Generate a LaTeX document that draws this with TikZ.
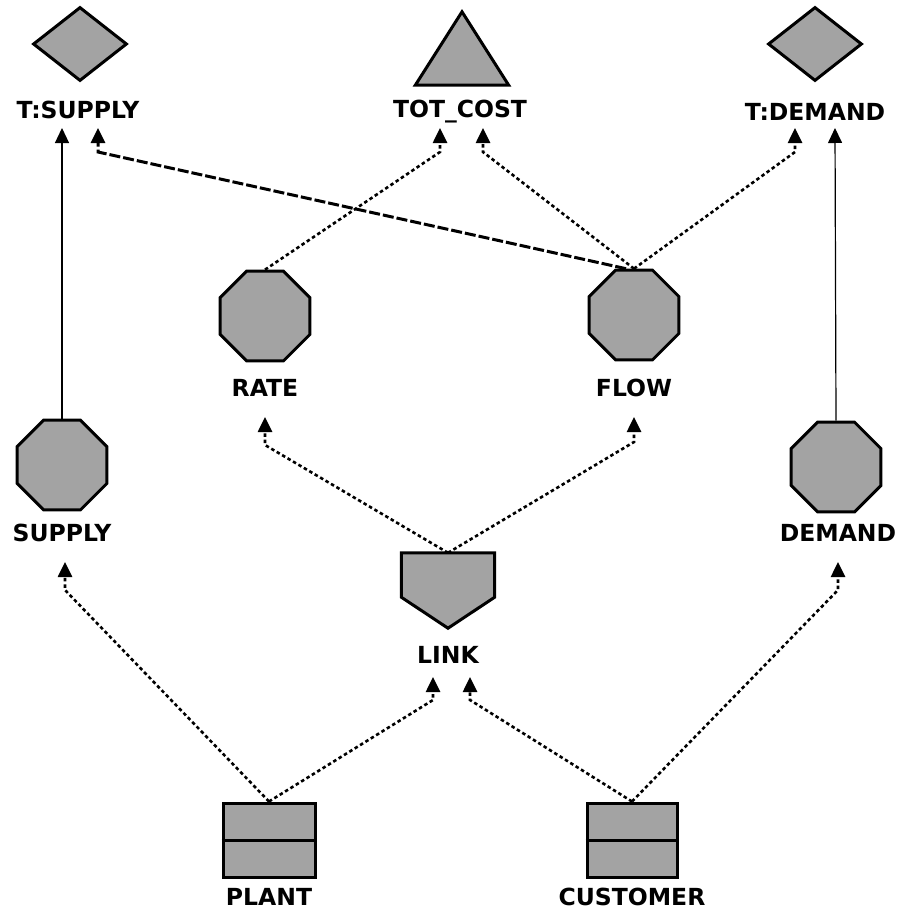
\documentclass[tikz,border=0pt]{standalone}
\usepackage{fontspec}
\setmainfont{DejaVu Sans}
\usetikzlibrary{shapes.geometric,arrows.meta}
\begin{document}
\begin{tikzpicture}[x=1pt,y=-1pt,
  shp/.style={draw=black,line width=3pt,fill=black!36},
  lbl/.style={font=\fontsize{23.5}{26}\selectfont\bfseries,inner sep=0pt,anchor=center},
  tip/.style={-{Triangle[width=14pt,length=15pt]}},
  dotline/.style={tip,line width=2.6pt,dash pattern=on 3.5pt off 2.8pt},
  dashline/.style={tip,line width=3pt,dash pattern=on 11pt off 3pt},
  solidline/.style={tip,line width=1.2pt},
  oct/.style={shp,regular polygon,regular polygon sides=8,minimum size=97pt,inner sep=0pt},
  dia/.style={shp,diamond,minimum width=94pt,minimum height=74pt,inner sep=0pt},
  box/.style={inner sep=0pt}]
\useasboundingbox (0,0) rectangle (899,915);

% top row
\node[dia] (tsupply) at (80,44) {};
\node[lbl] (tsupplyL) at (78,110) {T:SUPPLY};
\node[box,minimum width=93pt,minimum height=73pt] (totcost) at (462,48.5) {};
\draw[shp,line join=miter] (totcost.south west) -- (totcost.south east) -- (totcost.north) -- cycle;
\node[lbl] (totcostL) at (460,112) {TOT\_COST};
\node[dia] (tdemand) at (815,44) {};
\node[lbl] (tdemandL) at (815,112) {T:DEMAND};

% middle
\node[oct] (rate) at (265,316) {};
\node[lbl] (rateL) at (265,388) {RATE};
\node[oct] (flow) at (634,315) {};
\node[lbl] (flowL) at (634,388) {FLOW};
\node[oct] (supply) at (62,465) {};
\node[lbl] (supplyL) at (62,533) {SUPPLY};
\node[oct] (demand) at (836,467) {};
\node[lbl] (demandL) at (838,533) {DEMAND};

% link
\node[box,minimum width=93pt,minimum height=75pt] (link) at (448,590.5) {};
\draw[shp] (link.north west) -- (link.north east) -- ([yshift=31pt]link.south east) -- (link.south) -- ([yshift=31pt]link.south west) -- cycle;
\node[lbl] (linkL) at (448,655) {LINK};

% bottom
\node[shp,rectangle,minimum width=92pt,minimum height=74pt,inner sep=0pt] (plant) at (269,840) {};
\draw[line width=3pt] (plant.west) -- (plant.east);
\node[lbl] (plantL) at (269,897) {PLANT};
\node[shp,rectangle,minimum width=90pt,minimum height=74pt,inner sep=0pt] (customer) at (632,840) {};
\draw[line width=3pt] (customer.west) -- (customer.east);
\node[lbl] (customerL) at (632,897) {CUSTOMER};

% arrow tips and bends
\coordinate (tsA) at (62,128);
\coordinate (tsB) at (98,128);  \coordinate (tsBb) at (98,152);
\coordinate (tcA) at (440,128); \coordinate (tcAb) at (440,152);
\coordinate (tcB) at (483,128); \coordinate (tcBb) at (483,152);
\coordinate (tdA) at (795,128); \coordinate (tdAb) at (795,152);
\coordinate (tdB) at (835,128);
\coordinate (rT) at (265,417);  \coordinate (rTb) at (265,445);
\coordinate (fT) at (634,417);  \coordinate (fTb) at (634,442);
\coordinate (sT) at (65,562);   \coordinate (sTb) at (65,590);
\coordinate (dT) at (838,562);  \coordinate (dTb) at (838,590);
\coordinate (lA) at (433,677);  \coordinate (lAb) at (433,700);
\coordinate (lB) at (470,677);  \coordinate (lBb) at (470,700);

% connectors
\draw[solidline] (supply.north) -- (tsA);
\draw[solidline] (demand.north) -- (tdB);
\draw[dashline] ([xshift=-8pt]flow.north) -- (tsBb) -- (tsB);
\draw[dotline] (rate.north) -- (tcAb) -- (tcA);
\draw[dotline] (flow.north) -- (tcBb) -- (tcB);
\draw[dotline] (flow.north) -- (tdAb) -- (tdA);
\draw[dotline] (link.north) -- (rTb) -- (rT);
\draw[dotline] (link.north) -- (fTb) -- (fT);
\draw[dotline] (plant.north) -- (sTb) -- (sT);
\draw[dotline] (plant.north) -- (lAb) -- (lA);
\draw[dotline] (customer.north) -- (lBb) -- (lB);
\draw[dotline] (customer.north) -- (dTb) -- (dT);
\end{tikzpicture}
\end{document}
